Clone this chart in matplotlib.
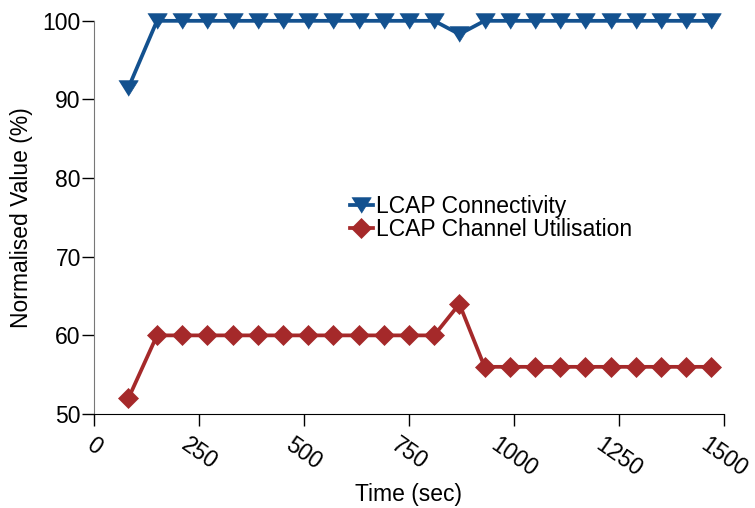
import matplotlib.pyplot as plt

plt.rcParams['font.family'] = ['Liberation Sans', 'DejaVu Sans']

# sample times (sec)
times = [82, 150, 210, 270, 330, 390, 450, 510, 570, 630, 690, 750,
         810, 870, 930, 990, 1050, 1110, 1170, 1230, 1290, 1350, 1410, 1470]

connectivity = [91.5, 100, 100, 100, 100, 100, 100, 100, 100, 100, 100, 100,
                100, 98.3, 100, 100, 100, 100, 100, 100, 100, 100, 100, 100]

utilisation = [52, 60, 60, 60, 60, 60, 60, 60, 60, 60, 60, 60,
               60, 64, 56, 56, 56, 56, 56, 56, 56, 56, 56, 56]

xticks = [0, 250, 500, 750, 1000, 1250, 1500]
yticks = [50, 60, 70, 80, 90, 100]

blue = "#13518f"
red = "#a5292a"

tri = [(-1, 0.8), (1, 0.8), (0, -0.8)]
fs = 16.5

fig = plt.figure(figsize=(7.55, 5.08), dpi=100)
ax = fig.add_axes([0.1245, 0.185, 0.8344, 0.774])

ax.plot(times, connectivity, color=blue, lw=2.7, marker=tri, ms=14,
        mew=0.5, clip_on=False, label="LCAP Connectivity", zorder=3)
ax.plot(times, utilisation, color=red, lw=2.7, marker='D', ms=10,
        mew=0.5, clip_on=False, label="LCAP Channel Utilisation", zorder=3)

ax.set_xlim(0, 1500)
ax.set_ylim(50, 100)
ax.set_xticks(xticks)
ax.set_yticks(yticks)
ax.set_xticklabels([str(t) for t in xticks], rotation=-35, ha='center',
                   fontsize=fs)
ax.set_yticklabels([str(t) for t in yticks], fontsize=fs)
ax.tick_params(axis='x', length=8.5, width=1, pad=5, color='black')
ax.tick_params(axis='y', length=8.5, width=1, pad=1, color='black')

for s in ['top', 'right']:
    ax.spines[s].set_visible(False)
ax.spines['left'].set_color('#777777')
ax.spines['bottom'].set_color('black')

fig.text(22 / 755, 1 - 218 / 508, "Normalised Value (%)", rotation=90,
         ha='center', va='center', fontsize=fs)
fig.text(0.5 * (94 + 724) / 755, 1 - 495 / 508, "Time (sec)",
         ha='center', va='center', fontsize=fs)

ax.legend(loc='center left', bbox_to_anchor=(350 / 755, 1 - 218 / 508),
          bbox_transform=fig.transFigure, frameon=False, fontsize=fs,
          handlelength=1.0, handletextpad=0.15, labelspacing=0.0,
          borderpad=0, borderaxespad=0)

fig.savefig("out.png", dpi=100)
